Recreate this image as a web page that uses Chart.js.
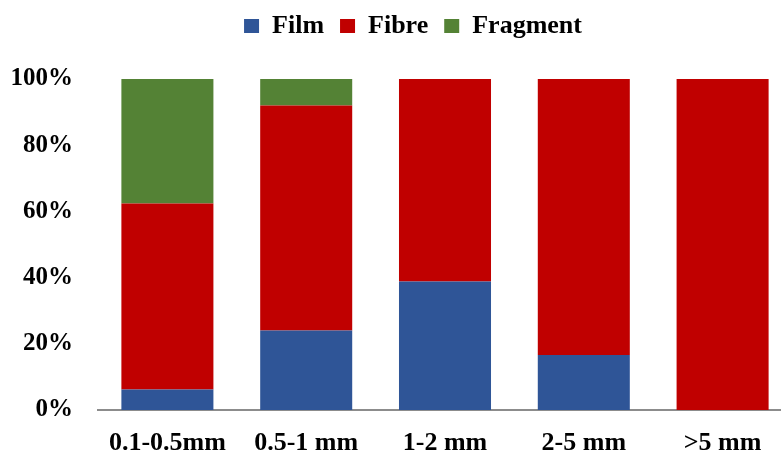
<!DOCTYPE html>
<html>
<head>
<meta charset="utf-8">
<script src="https://cdn.jsdelivr.net/npm/chart.js@4"></script>
<style>
  html, body { margin: 0; padding: 0; background: #fff; overflow: hidden; }
  .wrap { width: 781px; height: 452px; overflow: hidden; }
</style>
</head>
<body>
<div class="wrap">
  <canvas class="js-chart" width="792" height="452"></canvas>
</div>
<script>
const context = document.querySelector('.js-chart').getContext('2d');

const categories = ['0.1-0.5mm', '0.5-1 mm', '1-2 mm', '2-5 mm', '>5 mm'];
const film = [6.2, 24.0, 38.8, 16.6, 0];
const fibre = [56.2, 68.0, 61.2, 83.4, 100];
const fragment = [37.6, 8.0, 0, 0, 0];
const yTicks = [0, 20, 40, 60, 80, 100];

const FONT = '"Liberation Serif", "Times New Roman", serif';

// give the legend extra height and nudge it sideways to match the original
const legendTweak = {
  id: 'legendTweak',
  beforeInit(chart) {
    const fit = chart.legend.fit;
    chart.legend.fit = function () {
      fit.call(this);
      this.height += 30;
    };
  },
  afterLayout(chart) {
    chart.legend.left += 12;
    chart.legend.right += 12;
  },
};

new Chart(context, {
  type: 'bar',
  data: {
    labels: categories,
    datasets: [
      { label: 'Film', data: film, backgroundColor: '#2F5597' },
      { label: 'Fibre', data: fibre, backgroundColor: '#C00000' },
      { label: 'Fragment', data: fragment, backgroundColor: '#548235' },
    ],
  },
  options: {
    responsive: false,
    animation: false,
    devicePixelRatio: 1,
    layout: { padding: { left: 10, top: -3, right: 0, bottom: 0 } },
    datasets: {
      bar: { barPercentage: 0.663, categoryPercentage: 1 },
    },
    plugins: {
      tooltip: { enabled: false },
      legend: {
        position: 'top',
        labels: {
          color: '#000',
          font: { family: FONT, size: 26, weight: 'bold' },
          boxWidth: 15,
          boxHeight: 14,
          padding: 16,
        },
      },
    },
    scales: {
      x: {
        stacked: true,
        grid: { display: false },
        border: { display: true, color: '#8C8C8C', width: 2 },
        afterFit(axis) {
          axis.height = 42;
        },
        ticks: {
          color: '#000',
          font: { family: FONT, size: 26, weight: 'bold' },
          padding: 10,
          maxRotation: 0,
          autoSkip: false,
        },
      },
      y: {
        stacked: true,
        min: 0,
        max: 100,
        grid: { display: false },
        border: { display: false },
        afterBuildTicks(axis) {
          axis.ticks = yTicks.map(v => ({ value: v }));
        },
        afterFit(axis) {
          axis.width = 88;
        },
        ticks: {
          color: '#000',
          font: { family: FONT, size: 25, weight: 'bold' },
          padding: 17,
          callback(value) {
            return value + '%';
          },
        },
      },
    },
  },
  plugins: [legendTweak],
});
</script>
</body>
</html>
